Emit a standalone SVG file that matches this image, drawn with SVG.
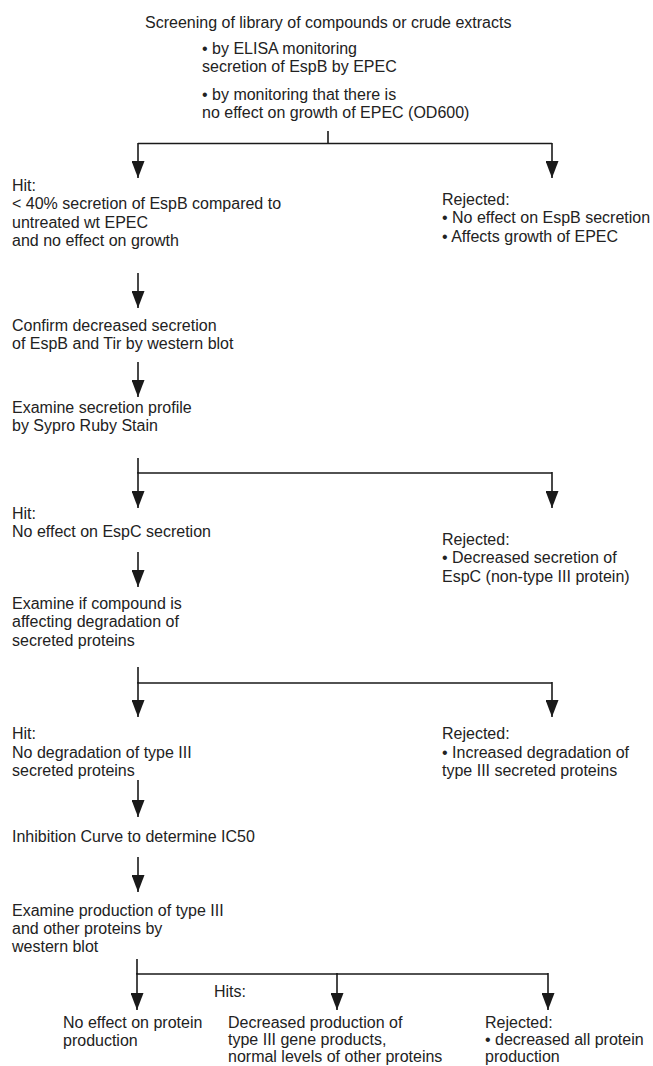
<svg xmlns="http://www.w3.org/2000/svg" width="653" height="1066" viewBox="0 0 653 1066">
<style>
text{font-family:"Liberation Sans",Arial,Helvetica,sans-serif;font-size:16px;fill:#222}
.ln{stroke:#1a1a1a;stroke-width:1.6;fill:none}
.ar{stroke:#1a1a1a;stroke-width:1.6;fill:none;marker-end:url(#ah)}
</style>
<defs>
<marker id="ah" markerUnits="userSpaceOnUse" markerWidth="18" markerHeight="13" viewBox="0 0 18 13" refX="17" refY="6.5" orient="auto">
<path d="M0,0 L17,6.5 L0,13 Z" fill="#1a1a1a"/>
</marker>
</defs>
<rect width="653" height="1066" fill="#fff"/>
<g id="connectors">
<path class="ln" d="M328,131 V143.5 M138,143.5 H552"/>
<path class="ar" d="M138,143 V178"/>
<path class="ar" d="M552,143 V178"/>
<path class="ar" d="M138,273 V308"/>
<path class="ar" d="M138,362 V397"/>
<path class="ln" d="M138,458 V473 H552"/>
<path class="ar" d="M138,472 V508"/>
<path class="ar" d="M552,472 V508"/>
<path class="ar" d="M138,552 V587"/>
<path class="ln" d="M138,667 V683 H552"/>
<path class="ar" d="M138,682 V717"/>
<path class="ar" d="M552,682 V717"/>
<path class="ar" d="M138,780 V817"/>
<path class="ar" d="M138,857 V892"/>
<path class="ln" d="M137,959 V974 H548"/>
<path class="ar" d="M137,973 V1010"/>
<path class="ar" d="M337,973 V1010"/>
<path class="ar" d="M548,973 V1010"/>
</g>
<g id="screening">
<text x="145" y="28">Screening of library of compounds or crude extracts</text>
<text x="202" y="54">• by ELISA monitoring</text>
<text x="202" y="72">secretion of EspB by EPEC</text>
<text x="202" y="100">• by monitoring that there is</text>
<text x="202" y="118">no effect on growth of EPEC (OD600)</text>
</g>
<g id="hit1">
<text x="12" y="191">Hit:</text>
<text x="12" y="209">&lt; 40% secretion of EspB compared to</text>
<text x="12" y="228">untreated wt EPEC</text>
<text x="12" y="246">and no effect on growth</text>
</g>
<g id="rejected1">
<text x="442" y="205">Rejected:</text>
<text x="442" y="223">• No effect on EspB secretion</text>
<text x="442" y="242">• Affects growth of EPEC</text>
</g>
<g id="confirm">
<text x="12" y="331">Confirm decreased secretion</text>
<text x="12" y="349">of EspB and Tir by western blot</text>
</g>
<g id="profile">
<text x="12" y="413">Examine secretion profile</text>
<text x="12" y="431">by Sypro Ruby Stain</text>
</g>
<g id="hit2">
<text x="12" y="519">Hit:</text>
<text x="12" y="537">No effect on EspC secretion</text>
</g>
<g id="rejected2">
<text x="442" y="545">Rejected:</text>
<text x="442" y="563">• Decreased secretion of</text>
<text x="442" y="582">EspC (non-type III protein)</text>
</g>
<g id="degradation">
<text x="12" y="609">Examine if compound is</text>
<text x="12" y="627">affecting degradation of</text>
<text x="12" y="646">secreted proteins</text>
</g>
<g id="hit3">
<text x="12" y="739">Hit:</text>
<text x="12" y="758">No degradation of type III</text>
<text x="12" y="776">secreted proteins</text>
</g>
<g id="rejected3">
<text x="442" y="739">Rejected:</text>
<text x="442" y="758">• Increased degradation of</text>
<text x="442" y="776">type III secreted proteins</text>
</g>
<g id="ic50">
<text x="12" y="842">Inhibition Curve to determine IC50</text>
</g>
<g id="production">
<text x="12" y="916">Examine production of type III</text>
<text x="12" y="934">and other proteins by</text>
<text x="12" y="952">western blot</text>
</g>
<g id="hits-label">
<text x="214" y="997">Hits:</text>
</g>
<g id="no-effect">
<text x="63" y="1028">No effect on protein</text>
<text x="63" y="1046">production</text>
</g>
<g id="decreased-type3">
<text x="228" y="1028">Decreased production of</text>
<text x="228" y="1045">type III gene products,</text>
<text x="228" y="1062">normal levels of other proteins</text>
</g>
<g id="rejected4">
<text x="485" y="1028">Rejected:</text>
<text x="485" y="1045">• decreased all protein</text>
<text x="485" y="1062">production</text>
</g>
</svg>
